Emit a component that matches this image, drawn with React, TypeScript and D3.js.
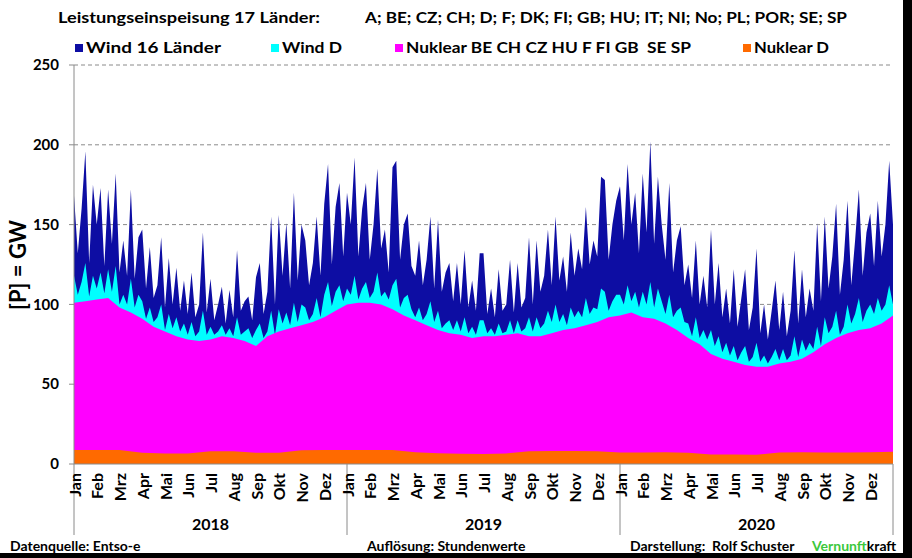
import * as d3 from 'd3';

// stacked tops (GW), 6 values per month from Jan 2018 to Dec 2020 + end
const topWind16 = [
  // 2018
  168, 132, 160, 196, 126, 175, 150, 173, 124, 172, 138, 182, 120, 140, 118, 172, 116, 142,
  147, 110, 136, 104, 112, 142, 98, 129, 100, 123, 96, 115, 94, 120, 92, 100, 145, 95,
  116, 90, 100, 111, 88, 109, 92, 134, 96, 102, 105, 90, 117, 126, 94, 108, 155, 100,
  156, 118, 151, 110, 170, 115, 150, 140, 112, 126, 155, 118, 163, 188, 125, 161, 176, 130,
  // 2019
  170, 150, 192, 130, 160, 176, 128, 150, 185, 135, 147, 120, 186, 190, 128, 150, 157, 124,
  118, 140, 112, 128, 155, 110, 153, 108, 120, 126, 102, 126, 100, 134, 98, 115, 96, 132,
  132, 94, 110, 92, 122, 96, 100, 128, 95, 126, 98, 104, 142, 100, 140, 108, 118, 147,
  112, 155, 115, 130, 108, 145, 118, 135, 122, 161, 125, 140, 130, 180, 178, 128, 150, 165,
  // 2020
  174, 140, 188, 150, 170, 132, 182, 145, 202, 138, 180, 150, 128, 176, 120, 140, 149, 112,
  125, 104, 140, 100, 118, 98, 147, 100, 126, 92, 110, 88, 122, 86, 104, 122, 84, 98,
  135, 82, 100, 78, 96, 115, 84, 108, 80, 96, 134, 88, 122, 92, 110, 96, 151, 102,
  155, 110, 130, 163, 106, 128, 165, 112, 140, 172, 118, 145, 157, 124, 165, 130, 150, 190,
  150,
];

const topWindD = [
  // 2018
  118, 106, 114, 126, 105, 118, 110, 120, 107, 122, 108, 124, 100, 106, 100, 116, 98, 106,
  102, 91, 98, 89, 92, 100, 84, 94, 85, 92, 83, 88, 81, 89, 80, 83, 96, 81,
  86, 81, 83, 87, 81, 85, 80, 92, 81, 83, 85, 79, 84, 88, 79, 83, 96, 81,
  97, 88, 95, 87, 101, 89, 100, 98, 90, 94, 104, 92, 106, 114, 99, 108, 112, 102,
  // 2019
  110, 106, 118, 103, 110, 114, 104, 108, 120, 105, 108, 103, 112, 116, 98, 104, 106, 97,
  92, 98, 90, 94, 102, 89, 96, 85, 88, 90, 84, 90, 83, 92, 82, 86, 81, 90,
  90, 82, 85, 81, 88, 82, 83, 90, 82, 90, 83, 85, 92, 83, 92, 85, 88, 96,
  89, 100, 89, 94, 87, 98, 92, 96, 92, 104, 94, 98, 97, 110, 108, 96, 102, 106,
  // 2020
  106, 100, 112, 102, 108, 98, 108, 100, 114, 98, 110, 102, 94, 106, 92, 96, 98, 89,
  88, 80, 92, 79, 84, 78, 84, 74, 80, 70, 76, 68, 74, 65, 70, 74, 64, 67,
  76, 64, 68, 63, 67, 72, 65, 72, 65, 68, 80, 67, 78, 71, 76, 72, 86, 74,
  92, 82, 86, 96, 81, 86, 100, 88, 94, 104, 89, 96, 100, 94, 104, 96, 100, 112,
  100,
];

// Nuklear (incl. D) top, 2 values per month
const topNuklear = [
  101, 102, 103, 104, 98, 95, 91, 86, 83, 80, 78, 77, 78, 80, 79, 77, 74, 80, 83, 85, 87, 89, 92, 96,
  100, 101, 101, 100, 97, 93, 90, 87, 84, 82, 81, 79, 80, 80, 81, 82, 80, 80, 82, 84, 85, 87, 89, 92,
  93, 95, 92, 91, 88, 84, 79, 75, 69, 66, 64, 62, 61, 61, 63, 64, 66, 70, 75, 79, 82, 84, 85, 88,
  93,
];

// Nuklear D, 1 value per month
const nuklearD = [
  8.8, 8.8, 8.8, 7, 6.6, 6.6, 8, 8, 7, 7, 8.6, 8.8,
  8.8, 8.8, 8.8, 7.4, 6.8, 6.4, 6.2, 6.6, 8, 8.2, 8.2, 8,
  7.2, 7.2, 7.4, 7, 6, 6, 5.8, 7.2, 7.4, 7.2, 7.2, 7.4,
  7.6,
];

const months = ['Jan', 'Feb', 'Mrz', 'Apr', 'Mai', 'Jun', 'Jul', 'Aug', 'Sep', 'Okt', 'Nov', 'Dez'];
const years = ['2018', '2019', '2020'];
const yTicks = [0, 50, 100, 150, 200, 250];

const legendItems = [
  { label: 'Wind 16 Länder', color: '#0d0da3', x: 75, w: 135 },
  { label: 'Wind D', color: '#00ffff', x: 271, w: 60 },
  { label: 'Nuklear BE CH CZ HU F FI GB\u00a0 SE SP', color: '#ff00ff', x: 395, w: 285 },
  { label: 'Nuklear D', color: '#ff6a00', x: 743, w: 75 },
];

const W = 912;
const H = 558;
const font = "Lato, 'Open Sans', sans-serif";

const App = () => {
  const nMonths = months.length * years.length;
  const x = d3.scaleLinear().domain([0, nMonths]).range([74, 893]);
  const y = d3.scaleLinear().domain([0, 250]).range([464, 65]);

  const area = (vals: number[], perMonth: number) =>
    d3
      .area<number>()
      .x((_, i) => x(i / perMonth))
      .y0(y(0))
      .y1(d => y(d))(vals) ?? '';

  const monthTicks = d3.range(nMonths);
  const yearBounds = d3.range(years.length + 1).map(i => i * 12);

  return (
    <svg
      width={W}
      height={H}
      style={{ position: 'absolute', left: 0, top: 0, background: '#fff' }}
      fontFamily={font}
      fontWeight="bold"
    >
      {/* title */}
      <text x={58} y={23} fontSize={15} textLength={262} lengthAdjust="spacingAndGlyphs">
        Leistungseinspeisung 17 Länder:
      </text>
      <text x={365} y={23} fontSize={15} textLength={482} lengthAdjust="spacingAndGlyphs">
        A; BE; CZ; CH; D; F; DK; FI; GB; HU; IT; NI; No; PL; POR; SE; SP
      </text>

      {/* legend */}
      {legendItems.map(d => (
        <g key={d.label}>
          <rect x={d.x} y={44} width={8} height={8} fill={d.color} />
          <text x={d.x + 11} y={53} fontSize={15} textLength={d.w} lengthAdjust="spacingAndGlyphs">
            {d.label}
          </text>
        </g>
      ))}

      {/* grid */}
      {yTicks.slice(1).map(t => (
        <line key={t} x1={x(0)} x2={x(nMonths)} y1={y(t)} y2={y(t)} stroke="#8a8a8a" strokeDasharray="4,3" />
      ))}

      {/* stacked areas, drawn back to front */}
      <path d={area(topWind16, 6)} fill="#0d0da3" />
      <path d={area(topWindD, 6)} fill="#00ffff" />
      <path d={area(topNuklear, 2)} fill="#ff00ff" />
      <path d={area(nuklearD, 1)} fill="#ff6a00" />

      {/* y axis */}
      <line x1={x(0)} x2={x(0)} y1={y(250)} y2={y(0)} stroke="#8a8a8a" />
      {yTicks.map(t => (
        <g key={t}>
          <line x1={x(0) - 5} x2={x(0)} y1={y(t)} y2={y(t)} stroke="#8a8a8a" />
          <text x={59} y={y(t)} dy="0.35em" textAnchor="end" fontSize={15}>
            {t}
          </text>
        </g>
      ))}
      <text transform="translate(17,265) rotate(-90)" textAnchor="middle" dominantBaseline="central" fontSize={22}>
        [P] = GW
      </text>

      {/* x axis */}
      <line x1={x(0)} x2={x(nMonths)} y1={y(0)} y2={y(0)} stroke="#8a8a8a" />
      {yearBounds.map(b => (
        <line key={b} x1={x(b)} x2={x(b)} y1={y(0)} y2={535} stroke="#8a8a8a" />
      ))}
      {monthTicks.map(m => (
        <text
          key={m}
          transform={`translate(${x(m)},473) rotate(-90)`}
          textAnchor="end"
          dominantBaseline="central"
          fontSize={16}
        >
          {months[m % 12]}
        </text>
      ))}
      {years.map((yr, i) => (
        <text key={yr} x={(x(i * 12) + x(i * 12 + 12)) / 2} y={530} textAnchor="middle" fontSize={16}>
          {yr}
        </text>
      ))}

      {/* footer */}
      <text x={10} y={551} fontSize={14}>Datenquelle: Entso-e</text>
      <text x={367} y={551} fontSize={14}>Auflösung: Stundenwerte</text>
      <text x={630} y={551} fontSize={14} xmlSpace="preserve">Darstellung:  Rolf Schuster</text>
      <text x={812} y={551} fontSize={14}>
        <tspan fill="#3cc83c">Vernunft</tspan>
        <tspan>kraft</tspan>
      </text>

      {/* picture frame */}
      <rect x={903} y={0} width={9} height={H} fill="#000" />
      <rect x={0} y={553} width={W} height={5} fill="#000" />
    </svg>
  );
};

export default App;
